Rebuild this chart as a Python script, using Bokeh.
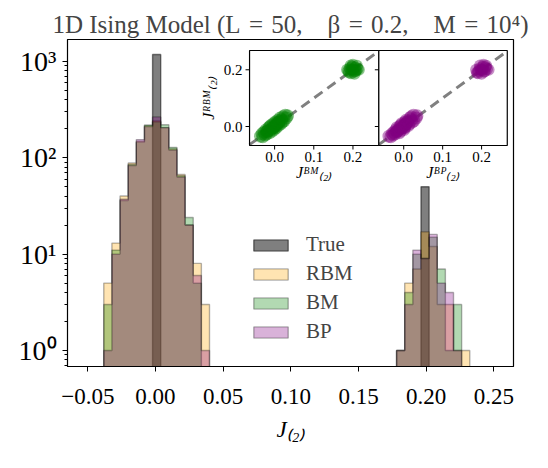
import numpy as np
from bokeh.plotting import figure
from bokeh.models import (Range1d, FixedTicker, Legend, LegendItem, LogScale,
                          LogAxis)
from bokeh.core.properties import value
from bokeh.embed import file_html
from bokeh.resources import INLINE

# ---------------- data ----------------
# shared histogram bins (45 equal bins)
BIN_LO, BIN_HI, N_BINS = -0.0382, 0.2322, 45
# counts: bins 0..12 (cluster near 0) and bins 36..44 (cluster near 0.2)
true_left = [0, 0, 0, 0, 0, 0, 1175, 0, 0, 0, 0, 0, 0]
true_right = [0, 0, 0, 50, 0, 0, 0, 0, 0]
rbm_left = [5, 13, 40, 88, 148, 215, 240, 205, 124, 67, 20, 8, 3]
rbm_right = [1, 5, 7, 17, 12, 3, 3, 1, 1]
bm_left = [3, 11, 36, 85, 145, 218, 235, 220, 128, 65, 24, 5, 0]
bm_right = [1, 4, 10, 9, 15, 7, 1, 3, 0]
bp_left = [1, 10, 37, 83, 154, 210, 265, 205, 120, 63, 20, 6, 1]
bp_right = [1, 3, 11, 9, 16, 5, 4, 1, 0]

x_ticks = [-0.05, 0.00, 0.05, 0.10, 0.15, 0.20, 0.25]
x_tick_labels = ["\u22120.05", "0.00", "0.05", "0.10", "0.15", "0.20", "0.25"]
y_ticks = [1, 10, 100, 1000]
y_tick_labels = ["10\u2070", "10\u00b9", "10\u00b2", "10\u00b3"]
inset_x_ticks = [0.0, 0.1, 0.2]
inset_x_labels = ["0.0", "0.1", "0.2"]
inset_y_ticks = [0.0, 0.2]
inset_y_labels = ["0.0", "0.2"]

# inset scatter (estimated representative points)
jrbm_a = [-0.034, -0.026, -0.036, -0.020, -0.030, -0.012, -0.026, -0.016, -0.004, -0.022,
          -0.012, 0.004, -0.016, -0.004, 0.010, -0.010, 0.002, 0.016, -0.004, 0.012,
          0.022, 0.004, 0.018, 0.030, 0.010, 0.024, 0.034, 0.020, 0.040, 0.030,
          0.038, 0.000, -0.002, 0.012, -0.018, 0.016, 0.006, -0.006]
jbm_a = [-0.036, -0.032, -0.030, -0.027, -0.024, -0.022, -0.020, -0.018, -0.015, -0.013,
         -0.011, -0.009, -0.007, -0.005, -0.003, -0.001, 0.001, 0.002, 0.004, 0.006,
         0.008, 0.010, 0.012, 0.014, 0.016, 0.018, 0.021, 0.024, 0.027, 0.030,
         0.033, -0.012, 0.000, 0.010, -0.020, 0.020, 0.005, -0.005]
jbp_a = [-0.038, -0.030, -0.033, -0.025, -0.027, -0.020, -0.022, -0.016, -0.017, -0.011,
         -0.013, -0.007, -0.009, -0.003, -0.005, 0.001, -0.001, 0.004, 0.002, 0.008,
         0.006, 0.012, 0.010, 0.016, 0.014, 0.020, 0.019, 0.026, 0.025, 0.032,
         0.034, -0.010, 0.002, 0.008, -0.018, 0.022, 0.003, -0.007]
jrbm_b = [0.196, 0.205, 0.188, 0.212, 0.200, 0.193, 0.208, 0.198, 0.203, 0.200,
          0.186, 0.190, 0.214, 0.218, 0.215, 0.195, 0.200, 0.200]
jbm_b = [0.188, 0.192, 0.195, 0.198, 0.200, 0.202, 0.205, 0.208, 0.212, 0.196,
         0.204, 0.190, 0.210, 0.200, 0.194, 0.206, 0.215, 0.185]
jbp_b = [0.192, 0.196, 0.190, 0.204, 0.200, 0.206, 0.210, 0.202, 0.214, 0.198,
         0.200, 0.188, 0.212, 0.205, 0.196, 0.208, 0.218, 0.186]

FONT = "Liberation Serif"
BOT = 1e-2
edges = np.linspace(BIN_LO, BIN_HI, N_BINS + 1)


def full(left, right):
    return left + [0] * (N_BINS - len(left) - len(right)) + right


def step_poly(c):
    c = np.asarray(c, float)
    c = np.where(c > 0, c, BOT)
    xs = np.repeat(edges, 2)
    ys = np.concatenate([[BOT], np.repeat(c, 2), [BOT]])
    return xs, ys


# ---------------- main histogram ----------------
FRAME_W, FRAME_H = 446, 327
p = figure(frame_width=FRAME_W, frame_height=FRAME_H,
           x_range=Range1d(-0.0650, 0.2645),
           y_range=Range1d(0, FRAME_H), y_axis_location=None,
           output_backend="svg", toolbar_location=None,
           min_border_left=67, min_border_right=35, min_border_top=39,
           min_border_bottom=0)
p.extra_y_ranges = {"cnt": Range1d(0.682, 1683)}
p.extra_y_scales = {"cnt": LogScale()}
p.grid.visible = False
p.outline_line_color = "black"
p.outline_line_width = 1.2
p.background_fill_color = "white"

p.title.text = ("1D Ising Model (L\u2004=\u200450,\u2003\u03b2\u2004=\u20040.2,"
                "\u2003M\u2004=\u200410\u2074)")
p.title.align = "center"
p.title.text_font = FONT
p.title.text_font_size = "25px"
p.title.text_font_style = "normal"
p.title.standoff = 3

series = [
    ("True", full(true_left, true_right), "black", 0.5),
    ("RBM", full(rbm_left, rbm_right), "orange", 0.3),
    ("BM", full(bm_left, bm_right), "green", 0.3),
    ("BP", full(bp_left, bp_right), "purple", 0.3),
]
items = []
for name, counts, col, a in series:
    xs, ys = step_poly(counts)
    r = p.patch(xs, ys, fill_color=col, fill_alpha=a, line_color="black",
                line_alpha=a, line_width=1.4, y_range_name="cnt")
    items.append(LegendItem(label=name, renderers=[r]))

xa = p.xaxis[0]
xa.ticker = FixedTicker(ticks=x_ticks)
xa.major_label_overrides = dict(zip(x_ticks, x_tick_labels))
xa.axis_label = "J\u208d\u2082\u208e"
minor = [m * d for d in [0.1, 1, 10, 100] for m in range(2, 10)]
ya = LogAxis(y_range_name="cnt", ticker=FixedTicker(ticks=y_ticks, minor_ticks=minor))
ya.major_label_overrides = dict(zip(y_ticks, y_tick_labels))
p.add_layout(ya, "left")
for ax in (xa, ya):
    ax.axis_line_color = "black"
    ax.major_tick_line_color = "black"
    ax.minor_tick_line_color = "black"
    ax.major_tick_out = 5
    ax.major_tick_in = 0
    ax.minor_tick_out = 3
    ax.minor_tick_in = 0
    ax.major_label_text_font = FONT
    ax.major_label_text_color = "black"
    ax.axis_label_text_font = FONT
    ax.axis_label_text_font_style = "italic"
    ax.axis_label_text_color = "black"
xa.major_label_text_font_size = "23px"
xa.major_label_standoff = 17
xa.axis_label_text_font_size = "23px"
xa.axis_label_standoff = 10
ya.major_label_text_font_size = "28px"
ya.major_label_standoff = 6

# legend kept inside the frame (empty area between the two clusters) so it stays visible
leg = Legend(items=items, orientation="vertical", location=(178, 18),
             padding=4, margin=0, spacing=4, label_standoff=14,
             glyph_width=43, glyph_height=14, border_line_alpha=0,
             background_fill_alpha=0, label_text_font=FONT,
             label_text_font_size="21px")
p.add_layout(leg)

# ---------------- insets (sub-coordinate systems inside the frame) ----------------
IN_X = Range1d(-0.064, 0.266)     # inset data ranges
IN_Y = Range1d(-0.067, 0.268)
IN_W, IN_H = 129, 95              # inset size in pixels
inset_boxes = [  # target boxes in main-frame coordinates (x data, y pixels from bottom)
    (Range1d(0.0695, 0.1650), Range1d(221, 316)),
    (Range1d(0.1650, 0.2599), Range1d(221, 316)),
]
tlx = 4 * (IN_X.end - IN_X.start) / IN_W
tly = 4 * (IN_Y.end - IN_Y.start) / IN_H
inset_data = [(jbm_a, jbm_b, "green", "J\u1d2e\u1d39\u208d\u2082\u208e", True),
              (jbp_a, jbp_b, "purple", "J\u1d2e\u1d3e\u208d\u2082\u208e", False)]

for (xt, yt), (xa_, xb_, color, xlabel, ylab) in zip(inset_boxes, inset_data):
    s = p.subplot(x_source=IN_X, y_source=IN_Y, x_target=xt, y_target=yt)
    s.quad(left=[IN_X.start], right=[IN_X.end], bottom=[IN_Y.start], top=[IN_Y.end],
           fill_color="white", line_color=None)
    lo = max(IN_X.start, IN_Y.start)
    hi = min(IN_X.end, IN_Y.end)
    s.line([lo, hi], [lo, hi], line_color="gray", line_width=3, line_dash="10 6")
    s.scatter(xa_, jrbm_a, size=13, color=color, alpha=0.45, line_color=None)
    s.scatter(xb_, jrbm_b, size=12, color=color, alpha=0.45, line_color=None)
    s.quad(left=[IN_X.start], right=[IN_X.end], bottom=[IN_Y.start], top=[IN_Y.end],
           fill_color=None, line_color="black", line_width=1.2)
    # ticks
    s.segment(x0=inset_x_ticks, y0=[IN_Y.start] * 3, x1=inset_x_ticks,
              y1=[IN_Y.start - tly] * 3, line_color="black", line_width=1)
    s.segment(x0=[IN_X.start] * 2, y0=inset_y_ticks, x1=[IN_X.start - tlx] * 2,
              y1=inset_y_ticks, line_color="black", line_width=1)
    s.text(x=inset_x_ticks, y=[IN_Y.start] * 3, text=inset_x_labels, y_offset=6,
           text_align="center", text_baseline="top", text_font=value(FONT),
           text_font_size=value("15px"), text_color="black")
    mid_x = (IN_X.start + IN_X.end) / 2
    mid_y = (IN_Y.start + IN_Y.end) / 2
    s.text(x=[mid_x], y=[IN_Y.start], text=[xlabel], y_offset=27,
           text_align="center", text_baseline="middle", text_font=value(FONT),
           text_font_size=value("16px"), text_font_style="italic", text_color="black")
    if ylab:
        s.text(x=[IN_X.start] * 2, y=inset_y_ticks, text=inset_y_labels, x_offset=-7,
               text_align="right", text_baseline="middle", text_font=value(FONT),
               text_font_size=value("15px"), text_color="black")
        s.text(x=[IN_X.start], y=[mid_y], text=["J\u1d3f\u1d2e\u1d39\u208d\u2082\u208e"],
               x_offset=-41, angle=np.pi / 2, text_align="center",
               text_baseline="middle", text_font=value(FONT),
               text_font_size=value("16px"), text_font_style="italic",
               text_color="black")

open("out.html", "w").write(file_html(p, INLINE))
